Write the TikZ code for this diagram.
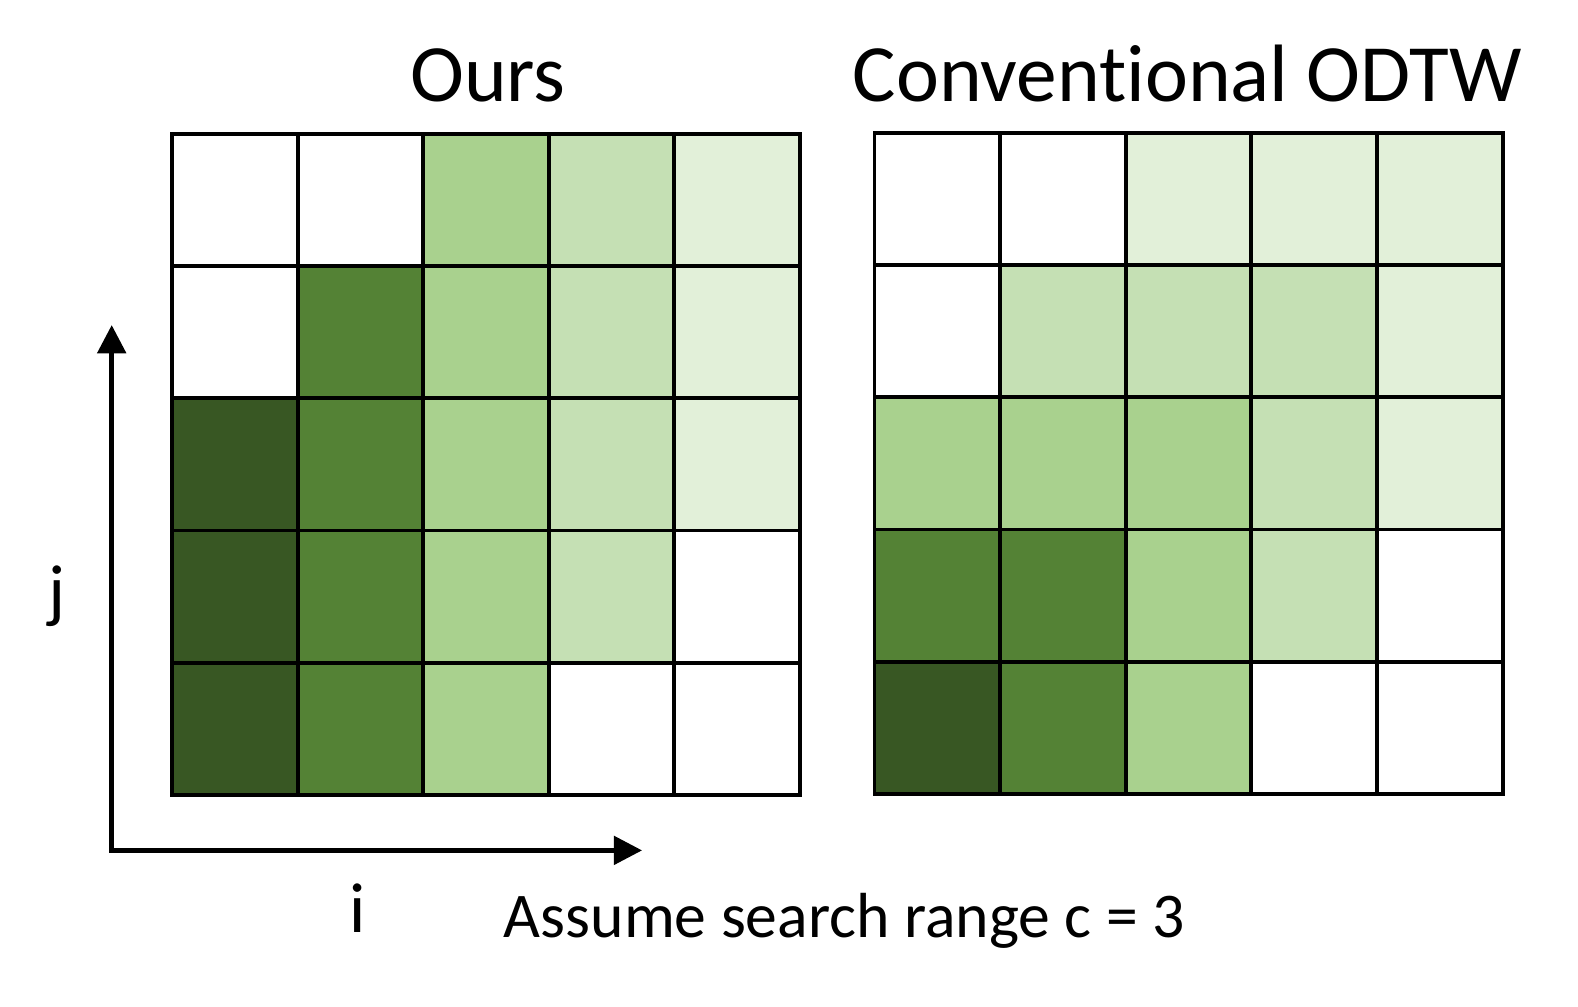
\documentclass[tikz,border=0pt]{standalone}
\usepackage{fontspec}
\setmainfont{Carlito}[Ligatures={NoCommon}]
\usepackage{xcolor}
\usetikzlibrary{arrows.meta, positioning}

\definecolor{gdark}{HTML}{385723}
\definecolor{gmid}{HTML}{548235}
\definecolor{glight}{HTML}{A9D18E}
\definecolor{gpale}{HTML}{C5E0B4}
\definecolor{gfaint}{HTML}{E2F0D9}

\begin{document}
\begin{tikzpicture}[x=0.01cm, y=-0.01cm,
    cell/.style={rectangle, draw=black, line width=1.1pt, minimum width=1.248cm, minimum height=1.314cm, inner sep=0pt, outer sep=0pt},
    title/.style={font=\fontsize{23}{28}\selectfont, inner sep=0pt, anchor=base},
    label/.style={font=\fontsize{20}{24}\selectfont, inner sep=0pt, anchor=base},
    axis/.style={{Triangle[length=0.28cm, width=0.28cm]}-{Triangle[length=0.28cm, width=0.28cm]}, line width=1.3pt}
]
    \useasboundingbox (0,0) rectangle (1568,1000);

    % Ours
    \foreach \row/\cols in {1/{white,white,glight,gpale,gfaint}, 2/{white,gmid,glight,gpale,gfaint},
                            3/{gdark,gmid,glight,gpale,gfaint}, 4/{gdark,gmid,glight,gpale,white},
                            5/{gdark,gmid,glight,white,white}} {
        \foreach \c [count=\col] in \cols {
            \node (ours-\row-\col) [cell, fill=\c] at ({171+124.8*(\col-0.5)}, {133+131.4*(\row-0.5)}) {};
        }
    }

    % Conventional ODTW
    \foreach \row/\cols in {1/{white,white,gfaint,gfaint,gfaint}, 2/{white,gpale,gpale,gpale,gfaint},
                            3/{glight,glight,glight,gpale,gfaint}, 4/{gmid,gmid,glight,gpale,white},
                            5/{gdark,gmid,glight,white,white}} {
        \foreach \c [count=\col] in \cols {
            \node (odtw-\row-\col) [cell, fill=\c] at ({869+124.8*(\col-0.5)}, {132+131.4*(\row-0.5)}) {};
        }
    }

    \node (ours) [title] at (485,101) {Ours};
    \node (odtw) [title] at (1180,101) {Conventional ODTW};

    % axes
    \coordinate (jtip) at (111,323);
    \coordinate (itip) at (638,845);
    \draw [axis] (jtip) |- (itip);
    \node (jlabel) [label] at (57,611) {j};
    \node (ilabel) [label] at (355,927) {i};

    \node (note) [font=\fontsize{18}{22}\selectfont, inner sep=0pt, anchor=base west] at (500,932) {Assume search range c = 3};
\end{tikzpicture}
\end{document}
